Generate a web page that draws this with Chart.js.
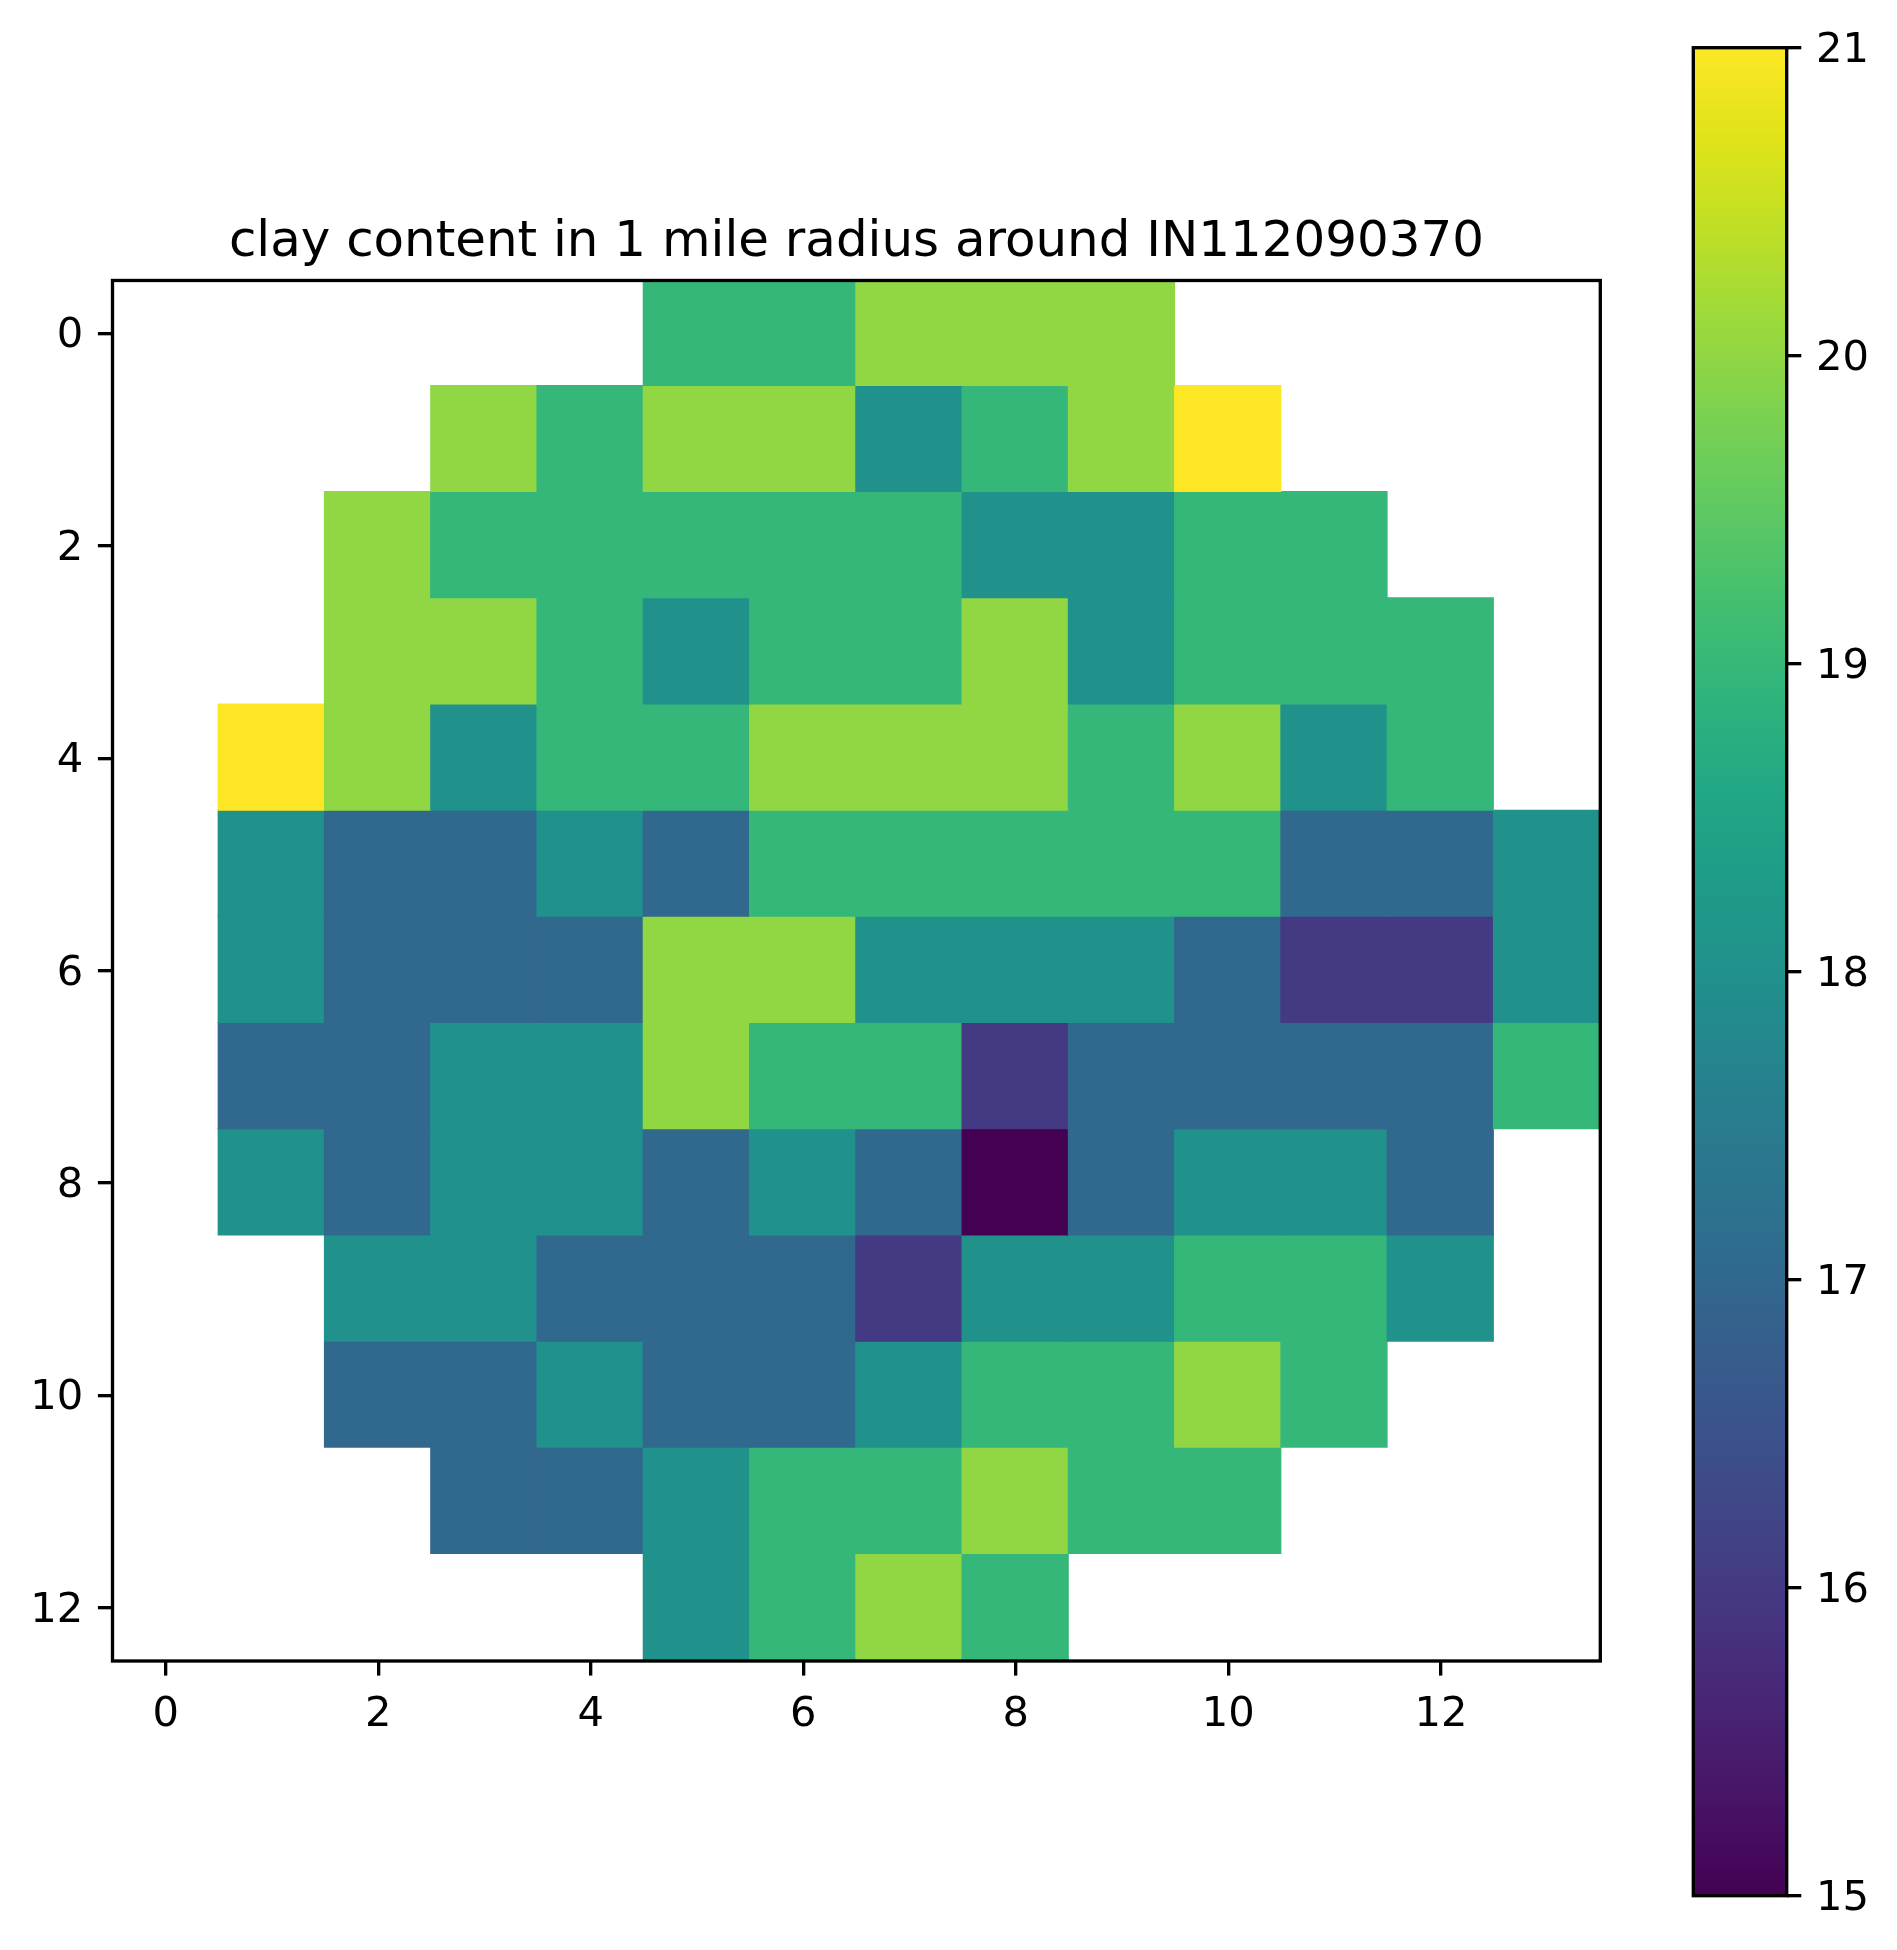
<!DOCTYPE html>
<html>
<head>
<meta charset="utf-8">
<title>clay content</title>
<script src="https://cdn.jsdelivr.net/npm/chart.js@4/dist/chart.umd.min.js"></script>
<style>
  html, body { margin: 0; padding: 0; background: #fff; }
  #wrap { position: relative; width: 1897px; height: 1950px; overflow: hidden; }
  canvas { position: absolute; top: 0; }
  #heat { left: 0; }
  #cbar { left: 1660px; }
</style>
</head>
<body>
<div id="wrap">
  <canvas id="heat" width="1660" height="1950"></canvas>
  <canvas id="cbar" width="237" height="1950"></canvas>
</div>
<script>
var n = null;
// clay content, one array per image row, columns 0..13
var row0  = [n, n, n, n, n, 19, 19, 20, 20, 20, n, n, n, n];
var row1  = [n, n, n, 20, 19, 20, 20, 18, 19, 20, 21, n, n, n];
var row2  = [n, n, 20, 19, 19, 19, 19, 19, 18, 18, 19, 19, n, n];
var row3  = [n, n, 20, 20, 19, 18, 19, 19, 20, 18, 19, 19, 19, n];
var row4  = [n, 21, 20, 18, 19, 19, 20, 20, 20, 19, 20, 18, 19, n];
var row5  = [n, 18, 17, 17, 18, 17, 19, 19, 19, 19, 19, 17, 17, 18];
var row6  = [n, 18, 17, 17, 17, 20, 20, 18, 18, 18, 17, 16, 16, 18];
var row7  = [n, 17, 17, 18, 18, 20, 19, 19, 16, 17, 17, 17, 17, 19];
var row8  = [n, 18, 17, 18, 18, 17, 18, 17, 15, 17, 18, 18, 17, n];
var row9  = [n, n, 18, 18, 17, 17, 17, 16, 18, 18, 19, 19, 18, n];
var row10 = [n, n, 17, 17, 18, 17, 17, 18, 19, 19, 20, 19, n, n];
var row11 = [n, n, n, 17, 17, 18, 19, 19, 20, 19, 19, n, n, n];
var row12 = [n, n, n, n, n, 18, 19, 20, 19, n, n, n, n, n];
var rows = [row0, row1, row2, row3, row4, row5, row6, row7, row8, row9, row10, row11, row12];

var xTicks = [0, 2, 4, 6, 8, 10, 12];
var yTicks = [0, 2, 4, 6, 8, 10, 12];
var cbTicks = [15, 16, 17, 18, 19, 20, 21];
var cbRange = [15, 21];

// viridis at the integer levels of the data
var levelColors = { 15: "#440154", 16: "#443983", 17: "#31688e", 18: "#21918c", 19: "#35b779", 20: "#90d743", 21: "#fde725" };
// viridis stops for the colorbar gradient, bottom to top
var viridis = ["#440154", "#471365", "#482475", "#463480", "#414487", "#3b528b", "#355f8d", "#2f6c8e", "#2a788e", "#25848e", "#21918c",
  "#1e9c89", "#22a884", "#2fb47c", "#44bf70", "#5ec962", "#7ad151", "#9bd93c", "#bddf26", "#dfe318", "#fde725"];

var tickFont = { family: "'DejaVu Sans'", size: 41.67 };
var lineW = 3.33;
// the raster in the reference sits a pixel up and left of its tick positions
var rowNudge = -0.012;
var colNudge = -0.006;

// top and right spines, chart.js only draws the scale side
var frame = {
  id: "frame",
  afterDraw: function (chart) {
    var a = chart.chartArea, c = chart.ctx;
    c.save();
    c.strokeStyle = "#000";
    c.lineWidth = lineW;
    c.strokeRect(a.left, a.top, a.right - a.left, a.bottom - a.top);
    c.restore();
  },
};

function axisGrid() {
  return { drawOnChartArea: false, drawTicks: true, tickLength: 14.6, lineWidth: lineW, color: "#000", tickColor: "#000", offset: false };
}

var datasets = rows.map(function (row, r) {
  var cells = [], colors = [];
  row.forEach(function (v, c) {
    if (v === null) return;
    cells.push({ x: c + colNudge, y: [r - 0.5 + rowNudge, r + 0.5 + rowNudge] });
    colors.push(levelColors[v]);
  });
  return { label: "row " + r, data: cells, backgroundColor: colors, borderWidth: 0, inflateAmount: 0.5, grouped: false, barPercentage: 1, categoryPercentage: 1 };
});

// Heatmap
new Chart(document.getElementById("heat").getContext("2d"), {
  type: "bar",
  data: { datasets: datasets },
  plugins: [frame],
  options: {
    responsive: false,
    animation: false,
    devicePixelRatio: 1,
    layout: { padding: { left: 0, right: 59.7, top: 0, bottom: 0 } },
    plugins: {
      legend: { display: false },
      tooltip: { enabled: false },
      title: {
        display: true,
        text: "clay content in 1 mile radius around IN112090370",
        fullSize: false,
        color: "#000",
        font: { family: "'DejaVu Sans'", size: 49.9, weight: "normal", lineHeight: 1.2 },
        padding: { top: 213, bottom: 7.6 },
      },
    },
    scales: {
      x: {
        type: "linear",
        min: -0.5,
        max: 13.5,
        offset: false,
        grid: axisGrid(),
        border: { display: false },
        afterBuildTicks: function (s) { s.ticks = xTicks.map(function (v) { return { value: v }; }); },
        afterFit: function (s) { s.height = 289; },
        ticks: { font: tickFont, color: "#000", padding: 14.6, autoSkip: false, maxRotation: 0, callback: function (v) { return String(v); } },
      },
      y: {
        type: "linear",
        reverse: true,
        min: -0.5,
        max: 12.5,
        grid: axisGrid(),
        border: { display: false },
        afterBuildTicks: function (s) { s.ticks = yTicks.map(function (v) { return { value: v }; }); },
        afterFit: function (s) { s.width = 112.5; },
        ticks: { font: tickFont, color: "#000", padding: 14.6, labelOffset: 3, autoSkip: false, callback: function (v) { return String(v); } },
      },
    },
  },
});

// Colorbar
new Chart(document.getElementById("cbar").getContext("2d"), {
  type: "bar",
  data: {
    labels: ["clay"],
    datasets: [
      {
        data: [cbRange],
        borderWidth: 0,
        barPercentage: 1,
        categoryPercentage: 1,
        backgroundColor: function (ctx) {
          var a = ctx.chart.chartArea;
          if (!a) return viridis[0];
          var g = ctx.chart.ctx.createLinearGradient(0, a.bottom, 0, a.top);
          viridis.forEach(function (col, i) { g.addColorStop(i / (viridis.length - 1), col); });
          return g;
        },
      },
    ],
  },
  plugins: [frame],
  options: {
    responsive: false,
    animation: false,
    devicePixelRatio: 1,
    layout: { padding: { left: 33.3, right: 0, top: 47.7, bottom: 54.3 } },
    plugins: { legend: { display: false }, tooltip: { enabled: false } },
    scales: {
      x: { display: false },
      y: {
        type: "linear",
        position: "right",
        min: cbRange[0],
        max: cbRange[1],
        grid: axisGrid(),
        border: { display: false },
        afterBuildTicks: function (s) { s.ticks = cbTicks.map(function (v) { return { value: v }; }); },
        afterFit: function (s) { s.width = 110.3; },
        ticks: { font: tickFont, color: "#000", padding: 14.6, labelOffset: 3, callback: function (v) { return String(v); } },
      },
    },
  },
});
</script>
</body>
</html>
